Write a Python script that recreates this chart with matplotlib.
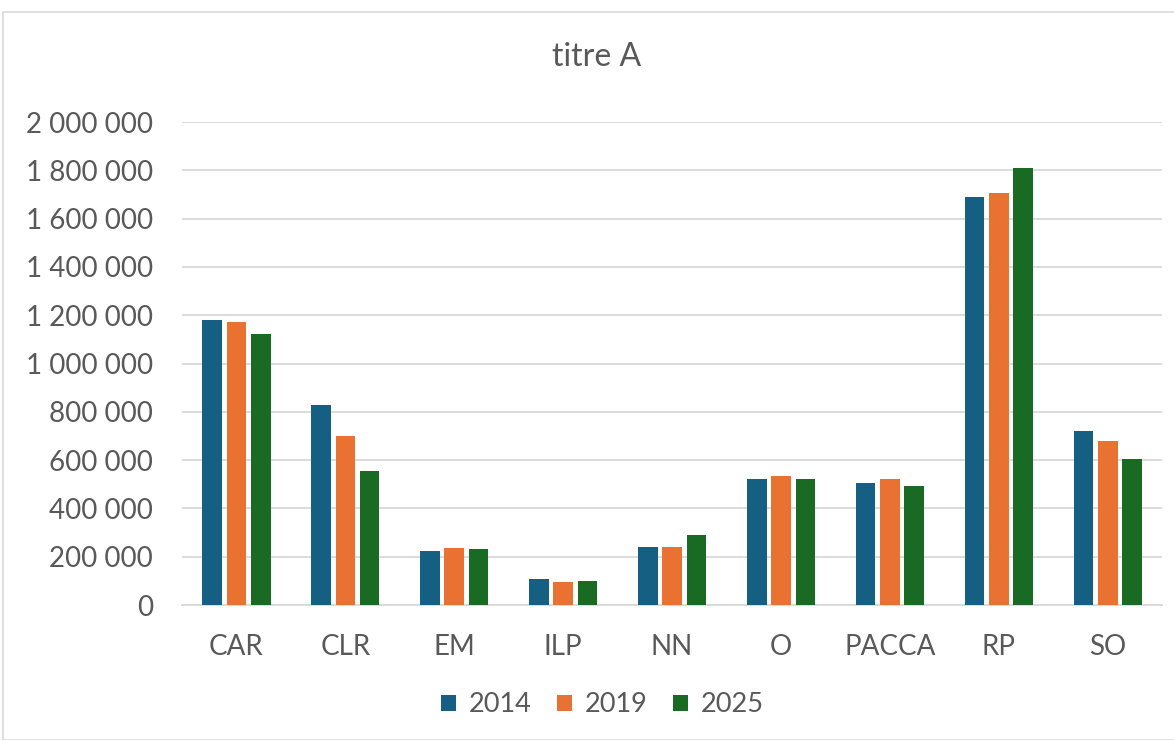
import numpy as np
import matplotlib
matplotlib.use("Agg")
import matplotlib.pyplot as plt
from matplotlib.ticker import FuncFormatter, MultipleLocator
from matplotlib.patches import Rectangle

# data
categories = ["CAR", "CLR", "EM", "ILP", "NN", "O", "PACCA", "RP", "SO"]
years = ["2014", "2019", "2025"]
v2014 = [1180000, 829000, 224000, 109000, 241000, 522000, 505000, 1689000, 720000]
v2019 = [1172000, 700000, 235000, 94000, 240000, 534000, 522000, 1706000, 679000]
v2025 = [1122000, 553000, 233000, 98000, 289000, 522000, 493000, 1810000, 603000]
colors = ["#156082", "#E97132", "#196B24"]

plt.rcParams["font.family"] = ["Lato", "DejaVu Sans"]
txt = "#595959"
grid = "#D9D9D9"

fig = plt.figure(figsize=(11.74, 7.4), dpi=100)
# chart border like the Excel chart area
fig.patches.append(Rectangle((3 / 1174, 0), 1.2, 1 - 12 / 740, transform=fig.transFigure,
                             fill=False, edgecolor=grid, linewidth=1.2))
ax = fig.add_axes([0.155, 0.1824, 0.835, 0.6527])

x = np.arange(len(categories))
step = 0.223
width = 0.18
for i, (vals, yr) in enumerate(zip([v2014, v2019, v2025], years)):
    ax.bar(x + (i - 1) * step, vals, width, color=colors[i], label=yr, zorder=3)

ax.set_xlim(-0.5, len(categories) - 0.5)
ax.set_ylim(0, 2000000)
ax.yaxis.set_major_locator(MultipleLocator(200000))
ax.yaxis.set_major_formatter(FuncFormatter(lambda v, p: f"{int(v):,}".replace(",", " ")))
ax.set_xticks(x)
ax.set_xticklabels(categories)
ax.grid(axis="y", color=grid, linewidth=1.3, zorder=0)
for s in ["top", "right", "left"]:
    ax.spines[s].set_visible(False)
ax.spines["bottom"].set_color(grid)
ax.spines["bottom"].set_linewidth(1.3)
ax.tick_params(axis="both", length=0, labelsize=20, labelcolor=txt)
ax.tick_params(axis="x", pad=21)
ax.tick_params(axis="y", pad=21)

fig.text(0.508, 1 - 57 / 740, "titre A", ha="center", va="center", fontsize=23, color=txt)

leg = fig.legend(loc="center", bbox_to_anchor=(0.513, 1 - 705 / 740), ncol=3, frameon=False,
                 fontsize=19.5, handlelength=0.56, handleheight=0.56, handletextpad=0.44,
                 columnspacing=0.96)
for t in leg.get_texts():
    t.set_color(txt)

fig.savefig("out.png", dpi=100)
